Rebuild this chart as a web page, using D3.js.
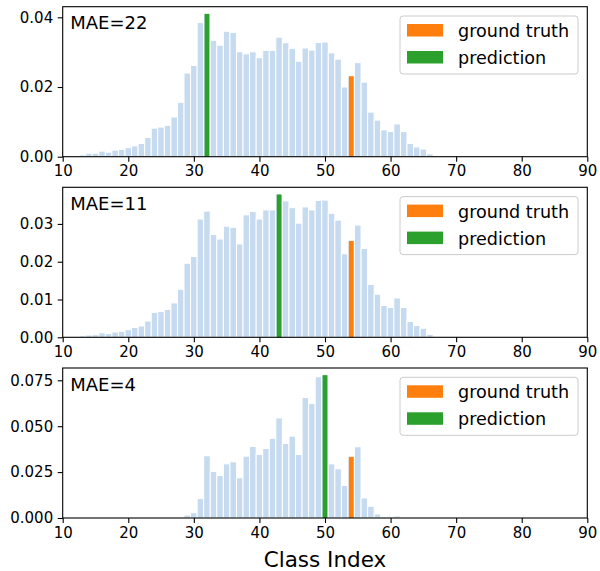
<!DOCTYPE html>
<html><head><meta charset="utf-8">
<script src="https://cdn.jsdelivr.net/npm/d3@7"></script>
<style>body{margin:0;background:#fff}svg{display:block}text{font-family:"DejaVu Sans",sans-serif}</style>
</head><body>
<script>
const classes = [11,12,13,14,15,16,17,18,19,20,21,22,23,24,25,26,27,28,29,30,31,32,33,34,35,36,37,38,39,40,41,42,43,44,45,46,47,48,49,50,51,52,53,54,55,56,57,58,59,60,61,62,63,64,65,66,67,68,69,70,71,72,73];
const probs1 = [0.0001,0.0003,0.0005,0.0010,0.0010,0.0016,0.0013,0.0019,0.0021,0.0026,0.0031,0.0038,0.0055,0.0082,0.0085,0.0090,0.0114,0.0156,0.0240,0.0262,0.0385,0.0410,0.0334,0.0320,0.0360,0.0357,0.0301,0.0295,0.0301,0.0284,0.0305,0.0305,0.0343,0.0327,0.0311,0.0274,0.0312,0.0306,0.0328,0.0329,0.0298,0.0280,0.0200,0.0231,0.0270,0.0214,0.0128,0.0105,0.0077,0.0072,0.0094,0.0072,0.0038,0.0028,0.0022,0.0008,0.0002,0.0001,0.0001,0.0001,0.0001,0.0001,0.0001];
const probs2 = [0.0001,0.0002,0.0004,0.0006,0.0007,0.0012,0.0010,0.0014,0.0016,0.0020,0.0026,0.0030,0.0043,0.0066,0.0068,0.0074,0.0091,0.0127,0.0196,0.0214,0.0313,0.0334,0.0272,0.0260,0.0294,0.0291,0.0247,0.0324,0.0333,0.0313,0.0337,0.0337,0.0378,0.0361,0.0343,0.0302,0.0345,0.0337,0.0362,0.0363,0.0328,0.0310,0.0221,0.0255,0.0297,0.0235,0.0140,0.0114,0.0084,0.0079,0.0104,0.0079,0.0042,0.0031,0.0024,0.0008,0.0002,0.0001,0.0001,0.0001,0.0001,0.0001,0.0001];
const probs3 = [0,0,0,0,0,0,0,0,0,0,0,0,0,0,0,0,0,0.0004,0.0016,0.0029,0.0106,0.0339,0.0253,0.0231,0.0295,0.0306,0.0219,0.0337,0.0390,0.0346,0.0379,0.0434,0.0545,0.0406,0.0446,0.0346,0.0656,0.0623,0.0769,0.0778,0.0295,0.0268,0.0177,0.0333,0.0388,0.0109,0.0064,0.0022,0.0007,0.0007,0.0011,0,0,0,0,0,0,0,0,0,0,0,0];
const groundTruth = [54,54,54];
const predictions = [32,43,50];
const maeLabels = ["MAE=22","MAE=11","MAE=4"];
const yTicks = [[0,0.02,0.04],[0,0.01,0.02,0.03],[0,0.025,0.05,0.075]];
const yFormats = [".2f",".2f",".3f"];
const xTicks = [10,20,30,40,50,60,70,80,90];
const legendLabels = ["ground truth","prediction"];

const W=600,H=571;
const svg=d3.select("body").append("svg").attr("width",W).attr("height",H);
svg.append("rect").attr("width",W).attr("height",H).attr("fill","#fff");
const left=62.7,right=587.3;
const tops=[6.7,187.3,368], ph=150;
const x=d3.scaleLinear().domain([10,90]).range([left,right]);
const bw=x(11)-x(10);
const allProbs=[probs1,probs2,probs3];
const blue="#c6dbef", orange="#ff7f0e", green="#2ca02c";

allProbs.forEach((probs,i)=>{
  const top=tops[i], bottom=top+ph;
  const y=d3.scaleLinear().domain([0,d3.max(probs)*1.05]).range([bottom,top]);
  const g=svg.append("g");
  const data=classes.map((c,k)=>({c,v:probs[k]})).filter(d=>d.v>0);
  g.selectAll("rect.b").data(data).join("rect").attr("class","b")
    .attr("x",d=>x(d.c)-bw/2).attr("width",bw)
    .attr("y",d=>y(d.v)).attr("height",d=>bottom-y(d.v))
    .attr("fill",blue).attr("stroke","#fff").attr("stroke-width",1);
  const gtV=probs[classes.indexOf(groundTruth[i])];
  const prV=probs[classes.indexOf(predictions[i])];
  const cw=x(10.72)-x(10);
  g.append("rect").attr("x",x(groundTruth[i])-cw/2).attr("width",cw)
    .attr("y",y(gtV)).attr("height",bottom-y(gtV)).attr("fill",orange);
  g.append("rect").attr("x",x(predictions[i])-cw/2).attr("width",cw)
    .attr("y",y(prV)).attr("height",bottom-y(prV)).attr("fill",green);

  const xa=g.append("g").attr("transform",`translate(0,${bottom})`)
    .call(d3.axisBottom(x).tickValues(xTicks).tickSize(5).tickPadding(4).tickFormat(d3.format("d")));
  const ya=g.append("g").attr("transform",`translate(${left},0)`)
    .call(d3.axisLeft(y).tickValues(yTicks[i]).tickSize(5).tickPadding(4.5).tickFormat(d3.format(yFormats[i])));
  [xa,ya].forEach(a=>{a.select(".domain").remove();a.selectAll("line").attr("stroke","#000").attr("stroke-width",1.1);
    a.selectAll("text").attr("font-size",15).attr("fill","#000").attr("font-family","DejaVu Sans");});
  xa.selectAll("text").attr("dy","0.71em");
  g.append("rect").attr("x",left).attr("y",top).attr("width",right-left).attr("height",ph)
    .attr("fill","none").attr("stroke","#000").attr("stroke-width",1.1);

  g.append("text").attr("x",left+7.5).attr("y",top+22.5).attr("font-size",18).text(maeLabels[i]);

  const lg=g.append("g").attr("transform",`translate(400,${top+9.3})`);
  lg.append("rect").attr("width",178).attr("height",58).attr("rx",3)
    .attr("fill","#fff").attr("fill-opacity",0.8).attr("stroke","#ccc").attr("stroke-width",1);
  [orange,green].forEach((col,k)=>{
    lg.append("rect").attr("x",7).attr("y",8+k*27).attr("width",36).attr("height",12.5).attr("fill",col);
    lg.append("text").attr("x",58).attr("y",21+k*27).attr("font-size",17.6).text(legendLabels[k]);
  });
});
svg.append("text").attr("x",(left+right)/2).attr("y",567).attr("text-anchor","middle")
  .attr("font-size",21.5).text("Class Index");
</script>
</body></html>
